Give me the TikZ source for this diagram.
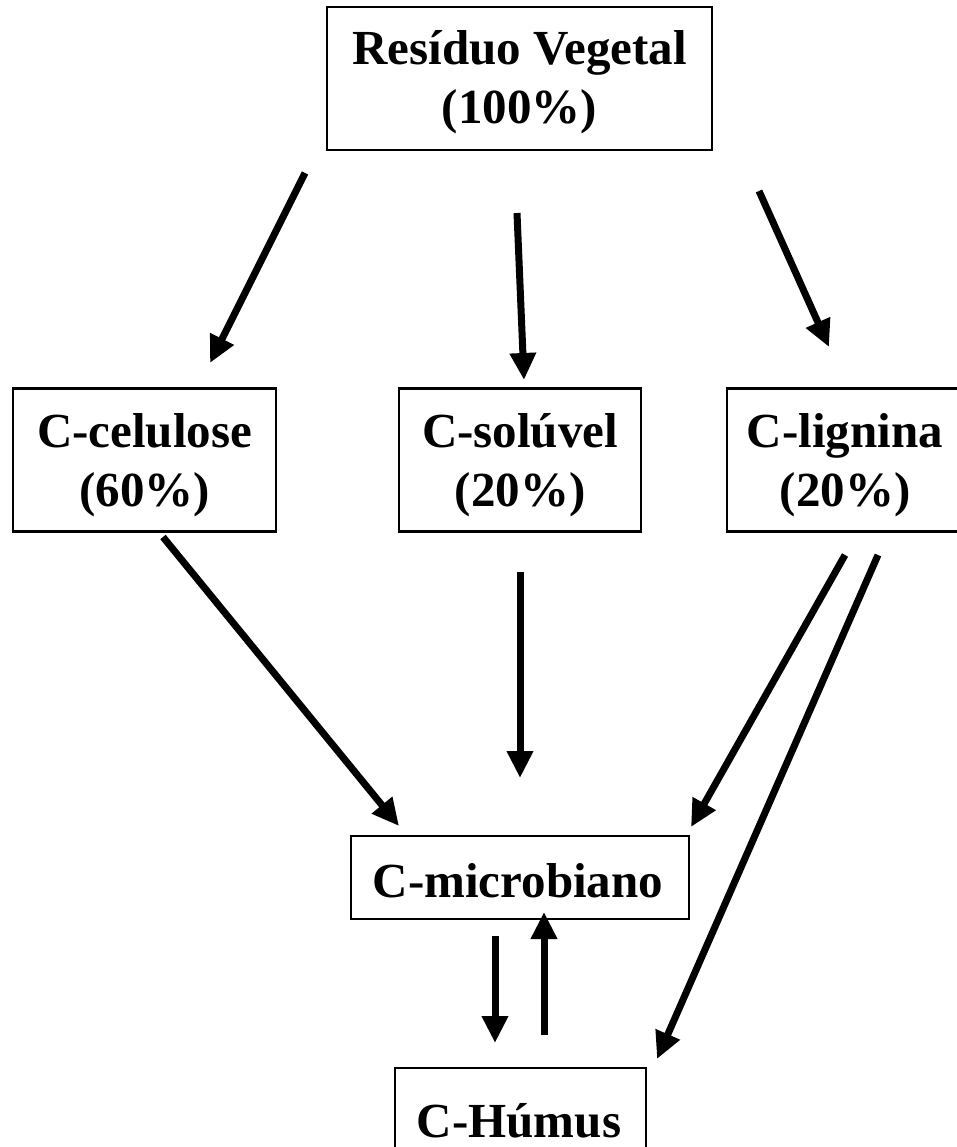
\documentclass[tikz,border=0pt]{standalone}
\usepackage{fontspec}
\setmainfont{Liberation Serif}
\usetikzlibrary{arrows.meta}
\begin{document}
\begin{tikzpicture}[x=1pt,y=-1pt,
  box/.style={draw, line width=2.7pt, inner sep=0pt},
  txt/.style={inner sep=0pt, align=center, font=\fontsize{49}{59}\selectfont\bfseries},
  arr/.style={line width=7pt, -{Triangle[length=27pt,width=25pt]}}]
\useasboundingbox (0,0) rectangle (956,1147);
\fill[white] (0,0) rectangle (956,1147);
% boxes
\node[box, minimum width=385pt, minimum height=143pt] (res) at (519.5,78.5) {};
\node[box, minimum width=263pt, minimum height=143pt] (cel) at (144.5,460) {};
\node[box, minimum width=242pt, minimum height=143pt] (sol) at (520,460) {};
\node[box, minimum width=236pt, minimum height=143pt] (lig) at (845,460) {};
\node[box, minimum width=338pt, minimum height=83pt] (mic) at (520,877.5) {};
\node[box, minimum width=251pt, minimum height=150pt] (hum) at (520.5,1143) {};
% texts
\node[txt] (rest) at (519.5,82) {Resíduo Vegetal\\(100\%)};
\node[txt] (celt) at (144.5,465) {C-celulose\\(60\%)};
\node[txt] (solt) at (520,465) {C-solúvel\\(20\%)};
\node[txt] (ligt) at (845,465) {C-lignina\\(20\%)};
\node[txt, anchor=base] (mict) at (518,897) {C-microbiano};
\node[txt, anchor=base] (humt) at (519,1137) {C-Húmus};
% connector end points
\coordinate (a1s) at (305,173);  \coordinate (a1e) at (210,363);
\coordinate (a2s) at (517,213);  \coordinate (a2e) at (524,380);
\coordinate (a3s) at (759,191);  \coordinate (a3e) at (829,347);
\coordinate (a4s) at (163,537);  \coordinate (a4e) at (399,826);
\coordinate (a5s) at (520,572);  \coordinate (a5e) at (520,778);
\coordinate (a6s) at (845,555);  \coordinate (a6e) at (691,827);
\coordinate (a7s) at (878,555);  \coordinate (a7e) at (657,1059);
\coordinate (a8s) at (495,936);  \coordinate (a8e) at (495,1043);
\coordinate (a9s) at (544,1035); \coordinate (a9e) at (544,912);
% connectors
\draw[arr] (a1s) -- (a1e);
\draw[arr] (a2s) -- (a2e);
\draw[arr] (a3s) -- (a3e);
\draw[arr] (a4s) -- (a4e);
\draw[arr] (a5s) -- (a5e);
\draw[arr] (a6s) -- (a6e);
\draw[arr] (a7s) -- (a7e);
\draw[arr] (a8s) -- (a8e);
\draw[arr] (a9s) -- (a9e);
\end{tikzpicture}
\end{document}
